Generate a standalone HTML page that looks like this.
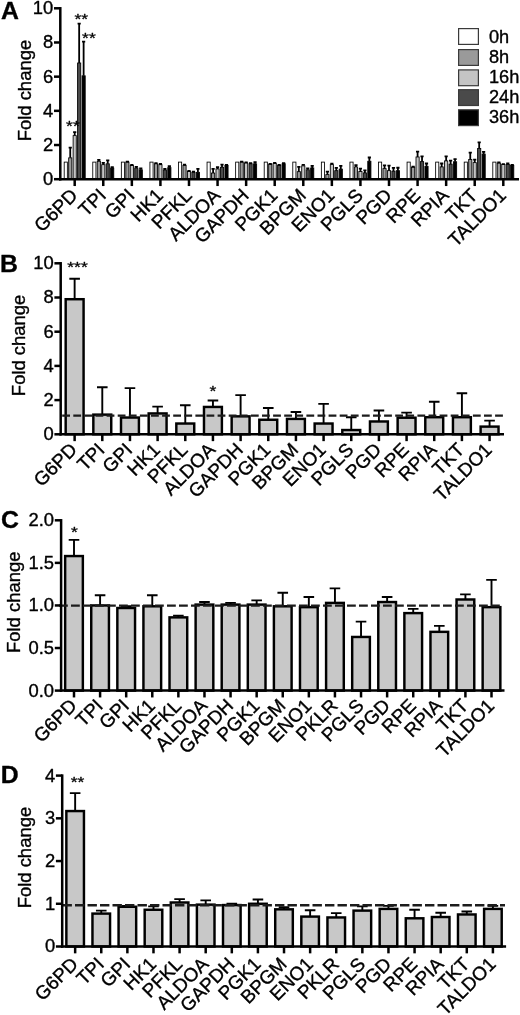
<!DOCTYPE html>
<html lang="en">
<head>
<meta charset="utf-8">
<title>Figure</title>
<style>html,body{margin:0;padding:0;background:#fff;}svg{display:block;}text{stroke:#000;stroke-width:0.35px;stroke-linejoin:round;}</style>
</head>
<body>
<svg width="520" height="1015" viewBox="0 0 520 1015" font-family='"Liberation Sans", Arial, Helvetica, sans-serif' fill="#000" stroke="none">
<rect x="0" y="0" width="520" height="1015" fill="#fff"/>
<rect x="64.2" y="162.11" width="3.16" height="17.09" fill="#ffffff" stroke="#000" stroke-width="0.85"/>
<rect x="68.66" y="157.84" width="3.16" height="21.36" fill="#9a9a9a" stroke="#000" stroke-width="0.85"/>
<path d="M70.24 157.84V147.58M68.64 147.58H71.84" stroke="#000" stroke-width="1.8" fill="none"/>
<rect x="73.12" y="135.62" width="3.16" height="43.58" fill="#c4c4c4" stroke="#000" stroke-width="0.85"/>
<path d="M74.7 135.62V132.2M73.1 132.2H76.3" stroke="#000" stroke-width="1.8" fill="none"/>
<rect x="77.58" y="62.99" width="3.16" height="116.21" fill="#4a4a4a" stroke="#000" stroke-width="0.85"/>
<path d="M79.16 62.99V23.68M77.56 23.68H80.76" stroke="#000" stroke-width="1.8" fill="none"/>
<rect x="82.04" y="75.81" width="3.16" height="103.39" fill="#000000" stroke="#000" stroke-width="0.85"/>
<path d="M83.62 75.81V41.63M82.02 41.63H85.22" stroke="#000" stroke-width="1.8" fill="none"/>
<rect x="92.77" y="162.11" width="3.16" height="17.09" fill="#ffffff" stroke="#000" stroke-width="0.85"/>
<rect x="97.23" y="161.26" width="3.16" height="17.94" fill="#9a9a9a" stroke="#000" stroke-width="0.85"/>
<path d="M98.81 161.26V159.89M97.21 159.89H100.41" stroke="#000" stroke-width="1.8" fill="none"/>
<rect x="101.69" y="164.67" width="3.16" height="14.53" fill="#c4c4c4" stroke="#000" stroke-width="0.85"/>
<path d="M103.27 164.67V162.96M101.67 162.96H104.87" stroke="#000" stroke-width="1.8" fill="none"/>
<rect x="106.15" y="163.82" width="3.16" height="15.38" fill="#4a4a4a" stroke="#000" stroke-width="0.85"/>
<path d="M107.73 163.82V160.4M106.13 160.4H109.33" stroke="#000" stroke-width="1.8" fill="none"/>
<rect x="110.61" y="168.09" width="3.16" height="11.11" fill="#000000" stroke="#000" stroke-width="0.85"/>
<path d="M112.19 168.09V167.24M110.59 167.24H113.79" stroke="#000" stroke-width="1.8" fill="none"/>
<rect x="121.35" y="162.11" width="3.16" height="17.09" fill="#ffffff" stroke="#000" stroke-width="0.85"/>
<rect x="125.81" y="162.11" width="3.16" height="17.09" fill="#9a9a9a" stroke="#000" stroke-width="0.85"/>
<path d="M127.39 162.11V161.6M125.79 161.6H128.99" stroke="#000" stroke-width="1.8" fill="none"/>
<rect x="130.27" y="165.53" width="3.16" height="13.67" fill="#c4c4c4" stroke="#000" stroke-width="0.85"/>
<path d="M131.85 165.53V165.02M130.25 165.02H133.45" stroke="#000" stroke-width="1.8" fill="none"/>
<rect x="134.73" y="168.09" width="3.16" height="11.11" fill="#4a4a4a" stroke="#000" stroke-width="0.85"/>
<path d="M136.31 168.09V166.9M134.71 166.9H137.91" stroke="#000" stroke-width="1.8" fill="none"/>
<rect x="139.19" y="169.8" width="3.16" height="9.4" fill="#000000" stroke="#000" stroke-width="0.85"/>
<path d="M140.77 169.8V168.43M139.17 168.43H142.37" stroke="#000" stroke-width="1.8" fill="none"/>
<rect x="149.92" y="162.11" width="3.16" height="17.09" fill="#ffffff" stroke="#000" stroke-width="0.85"/>
<rect x="154.38" y="163.82" width="3.16" height="15.38" fill="#9a9a9a" stroke="#000" stroke-width="0.85"/>
<path d="M155.96 163.82V163.14M154.36 163.14H157.56" stroke="#000" stroke-width="1.8" fill="none"/>
<rect x="158.84" y="164.67" width="3.16" height="14.53" fill="#c4c4c4" stroke="#000" stroke-width="0.85"/>
<path d="M160.42 164.67V163.99M158.82 163.99H162.02" stroke="#000" stroke-width="1.8" fill="none"/>
<rect x="163.3" y="169.97" width="3.16" height="9.23" fill="#4a4a4a" stroke="#000" stroke-width="0.85"/>
<path d="M164.88 169.97V168.78M163.28 168.78H166.48" stroke="#000" stroke-width="1.8" fill="none"/>
<rect x="167.76" y="167.58" width="3.16" height="11.62" fill="#000000" stroke="#000" stroke-width="0.85"/>
<path d="M169.34 167.58V166.21M167.74 166.21H170.94" stroke="#000" stroke-width="1.8" fill="none"/>
<rect x="178.49" y="162.11" width="3.16" height="17.09" fill="#ffffff" stroke="#000" stroke-width="0.85"/>
<rect x="182.95" y="165.53" width="3.16" height="13.67" fill="#9a9a9a" stroke="#000" stroke-width="0.85"/>
<path d="M184.53 165.53V164.67M182.93 164.67H186.13" stroke="#000" stroke-width="1.8" fill="none"/>
<rect x="187.41" y="171.51" width="3.16" height="7.69" fill="#c4c4c4" stroke="#000" stroke-width="0.85"/>
<path d="M188.99 171.51V171M187.39 171H190.59" stroke="#000" stroke-width="1.8" fill="none"/>
<rect x="191.87" y="172.36" width="3.16" height="6.84" fill="#4a4a4a" stroke="#000" stroke-width="0.85"/>
<path d="M193.45 172.36V171.68M191.85 171.68H195.05" stroke="#000" stroke-width="1.8" fill="none"/>
<rect x="196.33" y="172.36" width="3.16" height="6.84" fill="#000000" stroke="#000" stroke-width="0.85"/>
<path d="M197.91 172.36V168.95M196.31 168.95H199.51" stroke="#000" stroke-width="1.8" fill="none"/>
<rect x="207.06" y="162.11" width="3.16" height="17.09" fill="#ffffff" stroke="#000" stroke-width="0.85"/>
<rect x="211.53" y="173.05" width="3.16" height="6.15" fill="#9a9a9a" stroke="#000" stroke-width="0.85"/>
<path d="M213.1 173.05V168.78M211.5 168.78H214.7" stroke="#000" stroke-width="1.8" fill="none"/>
<rect x="215.98" y="168.95" width="3.16" height="10.25" fill="#c4c4c4" stroke="#000" stroke-width="0.85"/>
<path d="M217.56 168.95V167.24M215.96 167.24H219.16" stroke="#000" stroke-width="1.8" fill="none"/>
<rect x="220.44" y="167.24" width="3.16" height="11.96" fill="#4a4a4a" stroke="#000" stroke-width="0.85"/>
<path d="M222.02 167.24V164.67M220.42 164.67H223.62" stroke="#000" stroke-width="1.8" fill="none"/>
<rect x="224.91" y="165.53" width="3.16" height="13.67" fill="#000000" stroke="#000" stroke-width="0.85"/>
<path d="M226.48 165.53V165.02M224.88 165.02H228.08" stroke="#000" stroke-width="1.8" fill="none"/>
<rect x="235.64" y="162.11" width="3.16" height="17.09" fill="#ffffff" stroke="#000" stroke-width="0.85"/>
<rect x="240.1" y="162.11" width="3.16" height="17.09" fill="#9a9a9a" stroke="#000" stroke-width="0.85"/>
<path d="M241.68 162.11V161.6M240.08 161.6H243.28" stroke="#000" stroke-width="1.8" fill="none"/>
<rect x="244.56" y="162.96" width="3.16" height="16.24" fill="#c4c4c4" stroke="#000" stroke-width="0.85"/>
<path d="M246.14 162.96V162.28M244.54 162.28H247.74" stroke="#000" stroke-width="1.8" fill="none"/>
<rect x="249.02" y="163.82" width="3.16" height="15.38" fill="#4a4a4a" stroke="#000" stroke-width="0.85"/>
<path d="M250.6 163.82V163.14M249 163.14H252.2" stroke="#000" stroke-width="1.8" fill="none"/>
<rect x="253.48" y="163.82" width="3.16" height="15.38" fill="#000000" stroke="#000" stroke-width="0.85"/>
<path d="M255.06 163.82V162.11M253.46 162.11H256.66" stroke="#000" stroke-width="1.8" fill="none"/>
<rect x="264.21" y="162.11" width="3.16" height="17.09" fill="#ffffff" stroke="#000" stroke-width="0.85"/>
<rect x="268.67" y="164.33" width="3.16" height="14.87" fill="#9a9a9a" stroke="#000" stroke-width="0.85"/>
<path d="M270.25 164.33V163.82M268.65 163.82H271.85" stroke="#000" stroke-width="1.8" fill="none"/>
<rect x="273.13" y="163.48" width="3.16" height="15.72" fill="#c4c4c4" stroke="#000" stroke-width="0.85"/>
<path d="M274.71 163.48V162.96M273.11 162.96H276.31" stroke="#000" stroke-width="1.8" fill="none"/>
<rect x="277.59" y="165.53" width="3.16" height="13.67" fill="#4a4a4a" stroke="#000" stroke-width="0.85"/>
<path d="M279.17 165.53V164.84M277.57 164.84H280.77" stroke="#000" stroke-width="1.8" fill="none"/>
<rect x="282.05" y="163.82" width="3.16" height="15.38" fill="#000000" stroke="#000" stroke-width="0.85"/>
<path d="M283.63 163.82V163.14M282.03 163.14H285.23" stroke="#000" stroke-width="1.8" fill="none"/>
<rect x="292.78" y="162.11" width="3.16" height="17.09" fill="#ffffff" stroke="#000" stroke-width="0.85"/>
<rect x="297.24" y="171.68" width="3.16" height="7.52" fill="#9a9a9a" stroke="#000" stroke-width="0.85"/>
<path d="M298.82 171.68V166.9M297.22 166.9H300.42" stroke="#000" stroke-width="1.8" fill="none"/>
<rect x="301.7" y="165.87" width="3.16" height="13.33" fill="#c4c4c4" stroke="#000" stroke-width="0.85"/>
<path d="M303.28 165.87V164.84M301.68 164.84H304.88" stroke="#000" stroke-width="1.8" fill="none"/>
<rect x="306.16" y="169.8" width="3.16" height="9.4" fill="#4a4a4a" stroke="#000" stroke-width="0.85"/>
<path d="M307.74 169.8V168.43M306.14 168.43H309.34" stroke="#000" stroke-width="1.8" fill="none"/>
<rect x="310.62" y="167.92" width="3.16" height="11.28" fill="#000000" stroke="#000" stroke-width="0.85"/>
<path d="M312.2 167.92V165.87M310.6 165.87H313.8" stroke="#000" stroke-width="1.8" fill="none"/>
<rect x="321.36" y="162.11" width="3.16" height="17.09" fill="#ffffff" stroke="#000" stroke-width="0.85"/>
<rect x="325.82" y="174.59" width="3.16" height="4.61" fill="#9a9a9a" stroke="#000" stroke-width="0.85"/>
<path d="M327.4 174.59V171.68M325.8 171.68H329" stroke="#000" stroke-width="1.8" fill="none"/>
<rect x="330.28" y="164.59" width="3.16" height="14.61" fill="#c4c4c4" stroke="#000" stroke-width="0.85"/>
<path d="M331.86 164.59V163.56M330.26 163.56H333.46" stroke="#000" stroke-width="1.8" fill="none"/>
<rect x="334.74" y="170.66" width="3.16" height="8.54" fill="#4a4a4a" stroke="#000" stroke-width="0.85"/>
<path d="M336.32 170.66V167.92M334.72 167.92H337.92" stroke="#000" stroke-width="1.8" fill="none"/>
<rect x="339.2" y="169.12" width="3.16" height="10.08" fill="#000000" stroke="#000" stroke-width="0.85"/>
<path d="M340.78 169.12V165.87M339.18 165.87H342.38" stroke="#000" stroke-width="1.8" fill="none"/>
<rect x="349.93" y="162.11" width="3.16" height="17.09" fill="#ffffff" stroke="#000" stroke-width="0.85"/>
<rect x="354.39" y="166.9" width="3.16" height="12.3" fill="#9a9a9a" stroke="#000" stroke-width="0.85"/>
<path d="M355.97 166.9V165.19M354.37 165.19H357.57" stroke="#000" stroke-width="1.8" fill="none"/>
<rect x="358.85" y="171.51" width="3.16" height="7.69" fill="#c4c4c4" stroke="#000" stroke-width="0.85"/>
<path d="M360.43 171.51V168.6M358.83 168.6H362.03" stroke="#000" stroke-width="1.8" fill="none"/>
<rect x="363.31" y="172.88" width="3.16" height="6.32" fill="#4a4a4a" stroke="#000" stroke-width="0.85"/>
<path d="M364.89 172.88V170.31M363.29 170.31H366.49" stroke="#000" stroke-width="1.8" fill="none"/>
<rect x="367.77" y="161.26" width="3.16" height="17.94" fill="#000000" stroke="#000" stroke-width="0.85"/>
<path d="M369.35 161.26V157.5M367.75 157.5H370.95" stroke="#000" stroke-width="1.8" fill="none"/>
<rect x="378.5" y="162.11" width="3.16" height="17.09" fill="#ffffff" stroke="#000" stroke-width="0.85"/>
<rect x="382.96" y="168.6" width="3.16" height="10.6" fill="#9a9a9a" stroke="#000" stroke-width="0.85"/>
<path d="M384.54 168.6V165.36M382.94 165.36H386.14" stroke="#000" stroke-width="1.8" fill="none"/>
<rect x="387.42" y="170.66" width="3.16" height="8.54" fill="#c4c4c4" stroke="#000" stroke-width="0.85"/>
<path d="M389 170.66V165.53M387.4 165.53H390.6" stroke="#000" stroke-width="1.8" fill="none"/>
<rect x="391.88" y="171.17" width="3.16" height="8.03" fill="#4a4a4a" stroke="#000" stroke-width="0.85"/>
<path d="M393.46 171.17V167.92M391.86 167.92H395.06" stroke="#000" stroke-width="1.8" fill="none"/>
<rect x="396.34" y="170.66" width="3.16" height="8.54" fill="#000000" stroke="#000" stroke-width="0.85"/>
<path d="M397.92 170.66V167.75M396.32 167.75H399.52" stroke="#000" stroke-width="1.8" fill="none"/>
<rect x="407.08" y="162.11" width="3.16" height="17.09" fill="#ffffff" stroke="#000" stroke-width="0.85"/>
<rect x="411.54" y="167.24" width="3.16" height="11.96" fill="#9a9a9a" stroke="#000" stroke-width="0.85"/>
<path d="M413.12 167.24V166.55M411.52 166.55H414.72" stroke="#000" stroke-width="1.8" fill="none"/>
<rect x="416" y="156.98" width="3.16" height="22.22" fill="#c4c4c4" stroke="#000" stroke-width="0.85"/>
<path d="M417.58 156.98V151.69M415.98 151.69H419.18" stroke="#000" stroke-width="1.8" fill="none"/>
<rect x="420.46" y="161.6" width="3.16" height="17.6" fill="#4a4a4a" stroke="#000" stroke-width="0.85"/>
<path d="M422.04 161.6V156.47M420.44 156.47H423.64" stroke="#000" stroke-width="1.8" fill="none"/>
<rect x="424.92" y="166.38" width="3.16" height="12.82" fill="#000000" stroke="#000" stroke-width="0.85"/>
<path d="M426.5 166.38V163.48M424.9 163.48H428.1" stroke="#000" stroke-width="1.8" fill="none"/>
<rect x="435.65" y="162.11" width="3.16" height="17.09" fill="#ffffff" stroke="#000" stroke-width="0.85"/>
<rect x="440.11" y="166.9" width="3.16" height="12.3" fill="#9a9a9a" stroke="#000" stroke-width="0.85"/>
<path d="M441.69 166.9V163.48M440.09 163.48H443.29" stroke="#000" stroke-width="1.8" fill="none"/>
<rect x="444.57" y="160.91" width="3.16" height="18.29" fill="#c4c4c4" stroke="#000" stroke-width="0.85"/>
<path d="M446.15 160.91V156.3M444.55 156.3H447.75" stroke="#000" stroke-width="1.8" fill="none"/>
<rect x="449.03" y="164.16" width="3.16" height="15.04" fill="#4a4a4a" stroke="#000" stroke-width="0.85"/>
<path d="M450.61 164.16V160.57M449.01 160.57H452.21" stroke="#000" stroke-width="1.8" fill="none"/>
<rect x="453.49" y="161.77" width="3.16" height="17.43" fill="#000000" stroke="#000" stroke-width="0.85"/>
<path d="M455.07 161.77V159.2M453.47 159.2H456.67" stroke="#000" stroke-width="1.8" fill="none"/>
<rect x="464.22" y="162.11" width="3.16" height="17.09" fill="#ffffff" stroke="#000" stroke-width="0.85"/>
<rect x="468.68" y="159.55" width="3.16" height="19.65" fill="#9a9a9a" stroke="#000" stroke-width="0.85"/>
<path d="M470.26 159.55V152.71M468.66 152.71H471.86" stroke="#000" stroke-width="1.8" fill="none"/>
<rect x="473.14" y="162.62" width="3.16" height="16.58" fill="#c4c4c4" stroke="#000" stroke-width="0.85"/>
<path d="M474.72 162.62V159.55M473.12 159.55H476.32" stroke="#000" stroke-width="1.8" fill="none"/>
<rect x="477.6" y="148.44" width="3.16" height="30.76" fill="#4a4a4a" stroke="#000" stroke-width="0.85"/>
<path d="M479.18 148.44V142.46M477.58 142.46H480.78" stroke="#000" stroke-width="1.8" fill="none"/>
<rect x="482.06" y="154.08" width="3.16" height="25.12" fill="#000000" stroke="#000" stroke-width="0.85"/>
<path d="M483.64 154.08V151.86M482.04 151.86H485.24" stroke="#000" stroke-width="1.8" fill="none"/>
<rect x="492.8" y="162.11" width="3.16" height="17.09" fill="#ffffff" stroke="#000" stroke-width="0.85"/>
<rect x="497.25" y="163.14" width="3.16" height="16.06" fill="#9a9a9a" stroke="#000" stroke-width="0.85"/>
<path d="M498.84 163.14V162.45M497.24 162.45H500.44" stroke="#000" stroke-width="1.8" fill="none"/>
<rect x="501.72" y="164.5" width="3.16" height="14.7" fill="#c4c4c4" stroke="#000" stroke-width="0.85"/>
<path d="M503.3 164.5V164.16M501.7 164.16H504.9" stroke="#000" stroke-width="1.8" fill="none"/>
<rect x="506.18" y="164.5" width="3.16" height="14.7" fill="#4a4a4a" stroke="#000" stroke-width="0.85"/>
<path d="M507.76 164.5V163.48M506.16 163.48H509.36" stroke="#000" stroke-width="1.8" fill="none"/>
<rect x="510.63" y="165.36" width="3.16" height="13.84" fill="#000000" stroke="#000" stroke-width="0.85"/>
<path d="M512.22 165.36V165.02M510.62 165.02H513.82" stroke="#000" stroke-width="1.8" fill="none"/>
<line x1="60.3" y1="7.05" x2="60.3" y2="180.45" stroke="#000" stroke-width="2.5"/>
<line x1="59.05" y1="179.2" x2="519" y2="179.2" stroke="#000" stroke-width="2.5"/>
<line x1="54" y1="179.2" x2="60.3" y2="179.2" stroke="#000" stroke-width="2.5"/>
<text x="53.3" y="185.18" font-size="18.4" text-anchor="end">0</text>
<line x1="54" y1="145.02" x2="60.3" y2="145.02" stroke="#000" stroke-width="2.5"/>
<text x="53.3" y="151" font-size="18.4" text-anchor="end">2</text>
<line x1="54" y1="110.84" x2="60.3" y2="110.84" stroke="#000" stroke-width="2.5"/>
<text x="53.3" y="116.82" font-size="18.4" text-anchor="end">4</text>
<line x1="54" y1="76.66" x2="60.3" y2="76.66" stroke="#000" stroke-width="2.5"/>
<text x="53.3" y="82.64" font-size="18.4" text-anchor="end">6</text>
<line x1="54" y1="42.48" x2="60.3" y2="42.48" stroke="#000" stroke-width="2.5"/>
<text x="53.3" y="48.46" font-size="18.4" text-anchor="end">8</text>
<line x1="54" y1="8.3" x2="60.3" y2="8.3" stroke="#000" stroke-width="2.5"/>
<text x="53.3" y="14.28" font-size="18.4" text-anchor="end">10</text>
<text transform="translate(31,90.6) rotate(-90)" font-size="18.45" text-anchor="middle">Fold change</text>
<text transform="translate(1,19) scale(1,1)" font-size="24.8" font-weight="bold">A</text>
<line x1="74.7" y1="179.2" x2="74.7" y2="186.05" stroke="#000" stroke-width="2.5"/>
<text transform="translate(78.6,196.5) rotate(-45)" font-size="19.0" text-anchor="end">G6PD</text>
<line x1="103.27" y1="179.2" x2="103.27" y2="186.05" stroke="#000" stroke-width="2.5"/>
<text transform="translate(107.17,196.5) rotate(-45)" font-size="19.0" text-anchor="end">TPI</text>
<line x1="131.85" y1="179.2" x2="131.85" y2="186.05" stroke="#000" stroke-width="2.5"/>
<text transform="translate(135.75,196.5) rotate(-45)" font-size="19.0" text-anchor="end">GPI</text>
<line x1="160.42" y1="179.2" x2="160.42" y2="186.05" stroke="#000" stroke-width="2.5"/>
<text transform="translate(164.32,196.5) rotate(-45)" font-size="19.0" text-anchor="end">HK1</text>
<line x1="188.99" y1="179.2" x2="188.99" y2="186.05" stroke="#000" stroke-width="2.5"/>
<text transform="translate(192.89,196.5) rotate(-45)" font-size="19.0" text-anchor="end">PFKL</text>
<line x1="217.56" y1="179.2" x2="217.56" y2="186.05" stroke="#000" stroke-width="2.5"/>
<text transform="translate(221.47,196.5) rotate(-45)" font-size="19.0" text-anchor="end">ALDOA</text>
<line x1="246.14" y1="179.2" x2="246.14" y2="186.05" stroke="#000" stroke-width="2.5"/>
<text transform="translate(250.04,196.5) rotate(-45)" font-size="19.0" text-anchor="end">GAPDH</text>
<line x1="274.71" y1="179.2" x2="274.71" y2="186.05" stroke="#000" stroke-width="2.5"/>
<text transform="translate(278.61,196.5) rotate(-45)" font-size="19.0" text-anchor="end">PGK1</text>
<line x1="303.28" y1="179.2" x2="303.28" y2="186.05" stroke="#000" stroke-width="2.5"/>
<text transform="translate(307.18,196.5) rotate(-45)" font-size="19.0" text-anchor="end">BPGM</text>
<line x1="331.86" y1="179.2" x2="331.86" y2="186.05" stroke="#000" stroke-width="2.5"/>
<text transform="translate(335.76,196.5) rotate(-45)" font-size="19.0" text-anchor="end">ENO1</text>
<line x1="360.43" y1="179.2" x2="360.43" y2="186.05" stroke="#000" stroke-width="2.5"/>
<text transform="translate(364.33,196.5) rotate(-45)" font-size="19.0" text-anchor="end">PGLS</text>
<line x1="389" y1="179.2" x2="389" y2="186.05" stroke="#000" stroke-width="2.5"/>
<text transform="translate(392.9,196.5) rotate(-45)" font-size="19.0" text-anchor="end">PGD</text>
<line x1="417.58" y1="179.2" x2="417.58" y2="186.05" stroke="#000" stroke-width="2.5"/>
<text transform="translate(421.48,196.5) rotate(-45)" font-size="19.0" text-anchor="end">RPE</text>
<line x1="446.15" y1="179.2" x2="446.15" y2="186.05" stroke="#000" stroke-width="2.5"/>
<text transform="translate(450.05,196.5) rotate(-45)" font-size="19.0" text-anchor="end">RPIA</text>
<line x1="474.72" y1="179.2" x2="474.72" y2="186.05" stroke="#000" stroke-width="2.5"/>
<text transform="translate(478.62,196.5) rotate(-45)" font-size="19.0" text-anchor="end">TKT</text>
<line x1="503.3" y1="179.2" x2="503.3" y2="186.05" stroke="#000" stroke-width="2.5"/>
<text transform="translate(507.19,196.5) rotate(-45)" font-size="19.0" text-anchor="end">TALDO1</text>
<text transform="translate(72.9,130.77) scale(1,0.82)" font-size="17.5" text-anchor="middle">**</text>
<text transform="translate(81.25,24.37) scale(1,0.82)" font-size="17.5" text-anchor="middle">**</text>
<text transform="translate(88.9,43.27) scale(1,0.82)" font-size="17.5" text-anchor="middle">**</text>
<rect x="458.6" y="28.6" width="19.8" height="15.8" fill="#ffffff" stroke="#3a3a3a" stroke-width="1.2"/>
<text x="489" y="42.7" font-size="18.2">0h</text>
<rect x="458.6" y="49.6" width="19.8" height="15.8" fill="#9a9a9a" stroke="#3a3a3a" stroke-width="1.2"/>
<text x="489" y="62.85" font-size="18.2">8h</text>
<rect x="458.6" y="69.9" width="19.8" height="15.8" fill="#c4c4c4" stroke="#3a3a3a" stroke-width="1.2"/>
<text x="489" y="83" font-size="18.2">16h</text>
<rect x="458.6" y="89.7" width="19.8" height="15.8" fill="#4a4a4a" stroke="#3a3a3a" stroke-width="1.2"/>
<text x="489" y="103.15" font-size="18.2">24h</text>
<rect x="458.6" y="109.8" width="19.8" height="15.8" fill="#000000" stroke="#3a3a3a" stroke-width="1.2"/>
<text x="489" y="123.3" font-size="18.2">36h</text>
<path d="M74.63 299.21V278.69M69.33 278.69H79.93" stroke="#000" stroke-width="1.9" fill="none"/>
<rect x="65.68" y="299.21" width="17.9" height="135.09" fill="#c8c8c8" stroke="#000" stroke-width="2.45"/>
<path d="M102.29 414.63V387.28M96.99 387.28H107.59" stroke="#000" stroke-width="1.9" fill="none"/>
<rect x="93.34" y="414.63" width="17.9" height="19.67" fill="#c8c8c8" stroke="#000" stroke-width="2.45"/>
<path d="M129.96 417.54V388.13M124.66 388.13H135.26" stroke="#000" stroke-width="1.9" fill="none"/>
<rect x="121.01" y="417.54" width="17.9" height="16.76" fill="#c8c8c8" stroke="#000" stroke-width="2.45"/>
<path d="M157.62 413.44V406.6M152.32 406.6H162.92" stroke="#000" stroke-width="1.9" fill="none"/>
<rect x="148.67" y="413.44" width="17.9" height="20.86" fill="#c8c8c8" stroke="#000" stroke-width="2.45"/>
<path d="M185.28 423.53V405.23M179.98 405.23H190.58" stroke="#000" stroke-width="1.9" fill="none"/>
<rect x="176.33" y="423.53" width="17.9" height="10.77" fill="#c8c8c8" stroke="#000" stroke-width="2.45"/>
<path d="M212.94 406.94V400.44M207.64 400.44H218.24" stroke="#000" stroke-width="1.9" fill="none"/>
<rect x="203.99" y="406.94" width="17.9" height="27.36" fill="#c8c8c8" stroke="#000" stroke-width="2.45"/>
<path d="M240.61 416.35V395.14M235.31 395.14H245.91" stroke="#000" stroke-width="1.9" fill="none"/>
<rect x="231.66" y="416.35" width="17.9" height="17.95" fill="#c8c8c8" stroke="#000" stroke-width="2.45"/>
<path d="M268.27 419.76V407.97M262.97 407.97H273.57" stroke="#000" stroke-width="1.9" fill="none"/>
<rect x="259.32" y="419.76" width="17.9" height="14.54" fill="#c8c8c8" stroke="#000" stroke-width="2.45"/>
<path d="M295.93 418.91V412.07M290.63 412.07H301.23" stroke="#000" stroke-width="1.9" fill="none"/>
<rect x="286.98" y="418.91" width="17.9" height="15.39" fill="#c8c8c8" stroke="#000" stroke-width="2.45"/>
<path d="M323.59 423.53V403.86M318.29 403.86H328.89" stroke="#000" stroke-width="1.9" fill="none"/>
<rect x="314.64" y="423.53" width="17.9" height="10.77" fill="#c8c8c8" stroke="#000" stroke-width="2.45"/>
<path d="M351.26 430.03V417.2M345.96 417.2H356.56" stroke="#000" stroke-width="1.9" fill="none"/>
<rect x="342.31" y="430.03" width="17.9" height="4.27" fill="#c8c8c8" stroke="#000" stroke-width="2.45"/>
<path d="M378.92 421.48V410.53M373.62 410.53H384.22" stroke="#000" stroke-width="1.9" fill="none"/>
<rect x="369.97" y="421.48" width="17.9" height="12.82" fill="#c8c8c8" stroke="#000" stroke-width="2.45"/>
<path d="M406.58 417.71V412.58M401.28 412.58H411.88" stroke="#000" stroke-width="1.9" fill="none"/>
<rect x="397.63" y="417.71" width="17.9" height="16.59" fill="#c8c8c8" stroke="#000" stroke-width="2.45"/>
<path d="M434.24 417.2V401.81M428.94 401.81H439.54" stroke="#000" stroke-width="1.9" fill="none"/>
<rect x="425.29" y="417.2" width="17.9" height="17.1" fill="#c8c8c8" stroke="#000" stroke-width="2.45"/>
<path d="M461.91 417.2V393.26M456.61 393.26H467.21" stroke="#000" stroke-width="1.9" fill="none"/>
<rect x="452.96" y="417.2" width="17.9" height="17.1" fill="#c8c8c8" stroke="#000" stroke-width="2.45"/>
<path d="M489.57 426.61V420.62M484.27 420.62H494.87" stroke="#000" stroke-width="1.9" fill="none"/>
<rect x="480.62" y="426.61" width="17.9" height="7.69" fill="#c8c8c8" stroke="#000" stroke-width="2.45"/>
<line x1="62.2" y1="415.66" x2="503.8" y2="415.66" stroke="#1c1c1c" stroke-width="2.4" stroke-dasharray="7.8 3.3"/>
<line x1="60.7" y1="262.05" x2="60.7" y2="435.55" stroke="#000" stroke-width="2.5"/>
<line x1="59.45" y1="434.3" x2="504" y2="434.3" stroke="#000" stroke-width="2.5"/>
<line x1="54.4" y1="434.3" x2="60.7" y2="434.3" stroke="#000" stroke-width="2.5"/>
<text x="53.7" y="440.28" font-size="18.4" text-anchor="end">0</text>
<line x1="54.4" y1="400.1" x2="60.7" y2="400.1" stroke="#000" stroke-width="2.5"/>
<text x="53.7" y="406.08" font-size="18.4" text-anchor="end">2</text>
<line x1="54.4" y1="365.9" x2="60.7" y2="365.9" stroke="#000" stroke-width="2.5"/>
<text x="53.7" y="371.88" font-size="18.4" text-anchor="end">4</text>
<line x1="54.4" y1="331.7" x2="60.7" y2="331.7" stroke="#000" stroke-width="2.5"/>
<text x="53.7" y="337.68" font-size="18.4" text-anchor="end">6</text>
<line x1="54.4" y1="297.5" x2="60.7" y2="297.5" stroke="#000" stroke-width="2.5"/>
<text x="53.7" y="303.48" font-size="18.4" text-anchor="end">8</text>
<line x1="54.4" y1="263.3" x2="60.7" y2="263.3" stroke="#000" stroke-width="2.5"/>
<text x="53.7" y="269.28" font-size="18.4" text-anchor="end">10</text>
<text transform="translate(25,345.4) rotate(-90)" font-size="18.45" text-anchor="middle">Fold change</text>
<text transform="translate(-0.1,271.6) scale(1,1)" font-size="24.8" font-weight="bold">B</text>
<line x1="74.63" y1="434.3" x2="74.63" y2="441.15" stroke="#000" stroke-width="2.5"/>
<text transform="translate(78.13,450.9) rotate(-45)" font-size="19.0" text-anchor="end">G6PD</text>
<line x1="102.29" y1="434.3" x2="102.29" y2="441.15" stroke="#000" stroke-width="2.5"/>
<text transform="translate(105.79,450.9) rotate(-45)" font-size="19.0" text-anchor="end">TPI</text>
<line x1="129.96" y1="434.3" x2="129.96" y2="441.15" stroke="#000" stroke-width="2.5"/>
<text transform="translate(133.46,450.9) rotate(-45)" font-size="19.0" text-anchor="end">GPI</text>
<line x1="157.62" y1="434.3" x2="157.62" y2="441.15" stroke="#000" stroke-width="2.5"/>
<text transform="translate(161.12,450.9) rotate(-45)" font-size="19.0" text-anchor="end">HK1</text>
<line x1="185.28" y1="434.3" x2="185.28" y2="441.15" stroke="#000" stroke-width="2.5"/>
<text transform="translate(188.78,450.9) rotate(-45)" font-size="19.0" text-anchor="end">PFKL</text>
<line x1="212.94" y1="434.3" x2="212.94" y2="441.15" stroke="#000" stroke-width="2.5"/>
<text transform="translate(216.44,450.9) rotate(-45)" font-size="19.0" text-anchor="end">ALDOA</text>
<line x1="240.61" y1="434.3" x2="240.61" y2="441.15" stroke="#000" stroke-width="2.5"/>
<text transform="translate(244.11,450.9) rotate(-45)" font-size="19.0" text-anchor="end">GAPDH</text>
<line x1="268.27" y1="434.3" x2="268.27" y2="441.15" stroke="#000" stroke-width="2.5"/>
<text transform="translate(271.77,450.9) rotate(-45)" font-size="19.0" text-anchor="end">PGK1</text>
<line x1="295.93" y1="434.3" x2="295.93" y2="441.15" stroke="#000" stroke-width="2.5"/>
<text transform="translate(299.43,450.9) rotate(-45)" font-size="19.0" text-anchor="end">BPGM</text>
<line x1="323.59" y1="434.3" x2="323.59" y2="441.15" stroke="#000" stroke-width="2.5"/>
<text transform="translate(327.09,450.9) rotate(-45)" font-size="19.0" text-anchor="end">ENO1</text>
<line x1="351.26" y1="434.3" x2="351.26" y2="441.15" stroke="#000" stroke-width="2.5"/>
<text transform="translate(354.76,450.9) rotate(-45)" font-size="19.0" text-anchor="end">PGLS</text>
<line x1="378.92" y1="434.3" x2="378.92" y2="441.15" stroke="#000" stroke-width="2.5"/>
<text transform="translate(382.42,450.9) rotate(-45)" font-size="19.0" text-anchor="end">PGD</text>
<line x1="406.58" y1="434.3" x2="406.58" y2="441.15" stroke="#000" stroke-width="2.5"/>
<text transform="translate(410.08,450.9) rotate(-45)" font-size="19.0" text-anchor="end">RPE</text>
<line x1="434.24" y1="434.3" x2="434.24" y2="441.15" stroke="#000" stroke-width="2.5"/>
<text transform="translate(437.74,450.9) rotate(-45)" font-size="19.0" text-anchor="end">RPIA</text>
<line x1="461.91" y1="434.3" x2="461.91" y2="441.15" stroke="#000" stroke-width="2.5"/>
<text transform="translate(465.41,450.9) rotate(-45)" font-size="19.0" text-anchor="end">TKT</text>
<line x1="489.57" y1="434.3" x2="489.57" y2="441.15" stroke="#000" stroke-width="2.5"/>
<text transform="translate(493.07,450.9) rotate(-45)" font-size="19.0" text-anchor="end">TALDO1</text>
<text transform="translate(77.5,272.47) scale(1,0.82)" font-size="17.5" text-anchor="middle">***</text>
<text transform="translate(212.8,396.37) scale(1,0.82)" font-size="17.5" text-anchor="middle">*</text>
<path d="M74 556.06V539.88M68.7 539.88H79.3" stroke="#000" stroke-width="1.9" fill="none"/>
<rect x="65.15" y="556.06" width="17.7" height="134.54" fill="#c8c8c8" stroke="#000" stroke-width="2.45"/>
<path d="M100.09 605.45V595.23M94.79 595.23H105.39" stroke="#000" stroke-width="1.9" fill="none"/>
<rect x="91.24" y="605.45" width="17.7" height="85.15" fill="#c8c8c8" stroke="#000" stroke-width="2.45"/>
<path d="M126.19 608V606.3M120.89 606.3H131.49" stroke="#000" stroke-width="1.9" fill="none"/>
<rect x="117.34" y="608" width="17.7" height="82.6" fill="#c8c8c8" stroke="#000" stroke-width="2.45"/>
<path d="M152.28 606.3V595.23M146.98 595.23H157.58" stroke="#000" stroke-width="1.9" fill="none"/>
<rect x="143.43" y="606.3" width="17.7" height="84.3" fill="#c8c8c8" stroke="#000" stroke-width="2.45"/>
<path d="M178.37 617.37V615.67M173.07 615.67H183.67" stroke="#000" stroke-width="1.9" fill="none"/>
<rect x="169.52" y="617.37" width="17.7" height="73.23" fill="#c8c8c8" stroke="#000" stroke-width="2.45"/>
<path d="M204.47 604.6V602.04M199.17 602.04H209.77" stroke="#000" stroke-width="1.9" fill="none"/>
<rect x="195.62" y="604.6" width="17.7" height="86" fill="#c8c8c8" stroke="#000" stroke-width="2.45"/>
<path d="M230.56 604.6V602.9M225.26 602.9H235.86" stroke="#000" stroke-width="1.9" fill="none"/>
<rect x="221.71" y="604.6" width="17.7" height="86" fill="#c8c8c8" stroke="#000" stroke-width="2.45"/>
<path d="M256.66 604.6V600.34M251.36 600.34H261.96" stroke="#000" stroke-width="1.9" fill="none"/>
<rect x="247.81" y="604.6" width="17.7" height="86" fill="#c8c8c8" stroke="#000" stroke-width="2.45"/>
<path d="M282.75 606.3V592.68M277.45 592.68H288.05" stroke="#000" stroke-width="1.9" fill="none"/>
<rect x="273.9" y="606.3" width="17.7" height="84.3" fill="#c8c8c8" stroke="#000" stroke-width="2.45"/>
<path d="M308.84 607.15V596.93M303.54 596.93H314.14" stroke="#000" stroke-width="1.9" fill="none"/>
<rect x="299.99" y="607.15" width="17.7" height="83.45" fill="#c8c8c8" stroke="#000" stroke-width="2.45"/>
<path d="M334.94 602.9V588.42M329.64 588.42H340.24" stroke="#000" stroke-width="1.9" fill="none"/>
<rect x="326.09" y="602.9" width="17.7" height="87.7" fill="#c8c8c8" stroke="#000" stroke-width="2.45"/>
<path d="M361.03 636.96V621.63M355.73 621.63H366.33" stroke="#000" stroke-width="1.9" fill="none"/>
<rect x="352.18" y="636.96" width="17.7" height="53.64" fill="#c8c8c8" stroke="#000" stroke-width="2.45"/>
<path d="M387.13 602.04V596.93M381.83 596.93H392.43" stroke="#000" stroke-width="1.9" fill="none"/>
<rect x="378.28" y="602.04" width="17.7" height="88.56" fill="#c8c8c8" stroke="#000" stroke-width="2.45"/>
<path d="M413.22 613.11V608.86M407.92 608.86H418.52" stroke="#000" stroke-width="1.9" fill="none"/>
<rect x="404.37" y="613.11" width="17.7" height="77.49" fill="#c8c8c8" stroke="#000" stroke-width="2.45"/>
<path d="M439.31 631.85V625.89M434.01 625.89H444.61" stroke="#000" stroke-width="1.9" fill="none"/>
<rect x="430.46" y="631.85" width="17.7" height="58.75" fill="#c8c8c8" stroke="#000" stroke-width="2.45"/>
<path d="M465.41 599.49V594.38M460.11 594.38H470.71" stroke="#000" stroke-width="1.9" fill="none"/>
<rect x="456.56" y="599.49" width="17.7" height="91.11" fill="#c8c8c8" stroke="#000" stroke-width="2.45"/>
<path d="M491.5 607.15V579.9M486.2 579.9H496.8" stroke="#000" stroke-width="1.9" fill="none"/>
<rect x="482.65" y="607.15" width="17.7" height="83.45" fill="#c8c8c8" stroke="#000" stroke-width="2.45"/>
<line x1="59" y1="605.62" x2="501.5" y2="605.62" stroke="#1c1c1c" stroke-width="2.4" stroke-dasharray="8.8 3.2"/>
<line x1="61.1" y1="519.05" x2="61.1" y2="691.85" stroke="#000" stroke-width="2.5"/>
<line x1="59.85" y1="690.6" x2="504.5" y2="690.6" stroke="#000" stroke-width="2.5"/>
<line x1="54.8" y1="690.6" x2="61.1" y2="690.6" stroke="#000" stroke-width="2.5"/>
<text x="54.1" y="696.58" font-size="18.4" text-anchor="end">0.0</text>
<line x1="54.8" y1="648.02" x2="61.1" y2="648.02" stroke="#000" stroke-width="2.5"/>
<text x="54.1" y="654" font-size="18.4" text-anchor="end">0.5</text>
<line x1="54.8" y1="605.45" x2="61.1" y2="605.45" stroke="#000" stroke-width="2.5"/>
<text x="54.1" y="611.43" font-size="18.4" text-anchor="end">1.0</text>
<line x1="54.8" y1="562.88" x2="61.1" y2="562.88" stroke="#000" stroke-width="2.5"/>
<text x="54.1" y="568.86" font-size="18.4" text-anchor="end">1.5</text>
<line x1="54.8" y1="520.3" x2="61.1" y2="520.3" stroke="#000" stroke-width="2.5"/>
<text x="54.1" y="526.28" font-size="18.4" text-anchor="end">2.0</text>
<text transform="translate(19.6,602.3) rotate(-90)" font-size="18.45" text-anchor="middle">Fold change</text>
<text transform="translate(1.1,527.8) scale(1,1)" font-size="24.8" font-weight="bold">C</text>
<line x1="74" y1="690.6" x2="74" y2="697.45" stroke="#000" stroke-width="2.5"/>
<text transform="translate(78,706.9) rotate(-45)" font-size="19.0" text-anchor="end">G6PD</text>
<line x1="100.09" y1="690.6" x2="100.09" y2="697.45" stroke="#000" stroke-width="2.5"/>
<text transform="translate(104.09,706.9) rotate(-45)" font-size="19.0" text-anchor="end">TPI</text>
<line x1="126.19" y1="690.6" x2="126.19" y2="697.45" stroke="#000" stroke-width="2.5"/>
<text transform="translate(130.19,706.9) rotate(-45)" font-size="19.0" text-anchor="end">GPI</text>
<line x1="152.28" y1="690.6" x2="152.28" y2="697.45" stroke="#000" stroke-width="2.5"/>
<text transform="translate(156.28,706.9) rotate(-45)" font-size="19.0" text-anchor="end">HK1</text>
<line x1="178.37" y1="690.6" x2="178.37" y2="697.45" stroke="#000" stroke-width="2.5"/>
<text transform="translate(182.37,706.9) rotate(-45)" font-size="19.0" text-anchor="end">PFKL</text>
<line x1="204.47" y1="690.6" x2="204.47" y2="697.45" stroke="#000" stroke-width="2.5"/>
<text transform="translate(208.47,706.9) rotate(-45)" font-size="19.0" text-anchor="end">ALDOA</text>
<line x1="230.56" y1="690.6" x2="230.56" y2="697.45" stroke="#000" stroke-width="2.5"/>
<text transform="translate(234.56,706.9) rotate(-45)" font-size="19.0" text-anchor="end">GAPDH</text>
<line x1="256.66" y1="690.6" x2="256.66" y2="697.45" stroke="#000" stroke-width="2.5"/>
<text transform="translate(260.66,706.9) rotate(-45)" font-size="19.0" text-anchor="end">PGK1</text>
<line x1="282.75" y1="690.6" x2="282.75" y2="697.45" stroke="#000" stroke-width="2.5"/>
<text transform="translate(286.75,706.9) rotate(-45)" font-size="19.0" text-anchor="end">BPGM</text>
<line x1="308.84" y1="690.6" x2="308.84" y2="697.45" stroke="#000" stroke-width="2.5"/>
<text transform="translate(312.84,706.9) rotate(-45)" font-size="19.0" text-anchor="end">ENO1</text>
<line x1="334.94" y1="690.6" x2="334.94" y2="697.45" stroke="#000" stroke-width="2.5"/>
<text transform="translate(338.94,706.9) rotate(-45)" font-size="19.0" text-anchor="end">PKLR</text>
<line x1="361.03" y1="690.6" x2="361.03" y2="697.45" stroke="#000" stroke-width="2.5"/>
<text transform="translate(365.03,706.9) rotate(-45)" font-size="19.0" text-anchor="end">PGLS</text>
<line x1="387.13" y1="690.6" x2="387.13" y2="697.45" stroke="#000" stroke-width="2.5"/>
<text transform="translate(391.13,706.9) rotate(-45)" font-size="19.0" text-anchor="end">PGD</text>
<line x1="413.22" y1="690.6" x2="413.22" y2="697.45" stroke="#000" stroke-width="2.5"/>
<text transform="translate(417.22,706.9) rotate(-45)" font-size="19.0" text-anchor="end">RPE</text>
<line x1="439.31" y1="690.6" x2="439.31" y2="697.45" stroke="#000" stroke-width="2.5"/>
<text transform="translate(443.31,706.9) rotate(-45)" font-size="19.0" text-anchor="end">RPIA</text>
<line x1="465.41" y1="690.6" x2="465.41" y2="697.45" stroke="#000" stroke-width="2.5"/>
<text transform="translate(469.41,706.9) rotate(-45)" font-size="19.0" text-anchor="end">TKT</text>
<line x1="491.5" y1="690.6" x2="491.5" y2="697.45" stroke="#000" stroke-width="2.5"/>
<text transform="translate(495.5,706.9) rotate(-45)" font-size="19.0" text-anchor="end">TALDO1</text>
<text transform="translate(74.3,536.97) scale(1,0.82)" font-size="17.5" text-anchor="middle">*</text>
<path d="M75.15 811.06V793.12M69.85 793.12H80.45" stroke="#000" stroke-width="1.9" fill="none"/>
<rect x="66.35" y="811.06" width="17.6" height="135.44" fill="#c8c8c8" stroke="#000" stroke-width="2.45"/>
<path d="M101.26 913.6V910.61M95.96 910.61H106.56" stroke="#000" stroke-width="1.9" fill="none"/>
<rect x="92.46" y="913.6" width="17.6" height="32.9" fill="#c8c8c8" stroke="#000" stroke-width="2.45"/>
<path d="M127.37 906.77V905.91M122.07 905.91H132.67" stroke="#000" stroke-width="1.9" fill="none"/>
<rect x="118.57" y="906.77" width="17.6" height="39.73" fill="#c8c8c8" stroke="#000" stroke-width="2.45"/>
<path d="M153.48 909.76V906.34M148.18 906.34H158.78" stroke="#000" stroke-width="1.9" fill="none"/>
<rect x="144.68" y="909.76" width="17.6" height="36.74" fill="#c8c8c8" stroke="#000" stroke-width="2.45"/>
<path d="M179.59 902.49V899.08M174.29 899.08H184.89" stroke="#000" stroke-width="1.9" fill="none"/>
<rect x="170.79" y="902.49" width="17.6" height="44.01" fill="#c8c8c8" stroke="#000" stroke-width="2.45"/>
<path d="M205.7 904.63V900.36M200.4 900.36H211" stroke="#000" stroke-width="1.9" fill="none"/>
<rect x="196.9" y="904.63" width="17.6" height="41.87" fill="#c8c8c8" stroke="#000" stroke-width="2.45"/>
<path d="M231.81 905.06V903.77M226.51 903.77H237.11" stroke="#000" stroke-width="1.9" fill="none"/>
<rect x="223.01" y="905.06" width="17.6" height="41.44" fill="#c8c8c8" stroke="#000" stroke-width="2.45"/>
<path d="M257.92 903.77V899.5M252.62 899.5H263.22" stroke="#000" stroke-width="1.9" fill="none"/>
<rect x="249.12" y="903.77" width="17.6" height="42.73" fill="#c8c8c8" stroke="#000" stroke-width="2.45"/>
<path d="M284.02 909.33V907.19M278.72 907.19H289.32" stroke="#000" stroke-width="1.9" fill="none"/>
<rect x="275.22" y="909.33" width="17.6" height="37.17" fill="#c8c8c8" stroke="#000" stroke-width="2.45"/>
<path d="M310.13 916.59V910.18M304.83 910.18H315.43" stroke="#000" stroke-width="1.9" fill="none"/>
<rect x="301.33" y="916.59" width="17.6" height="29.91" fill="#c8c8c8" stroke="#000" stroke-width="2.45"/>
<path d="M336.24 917.45V913.17M330.94 913.17H341.54" stroke="#000" stroke-width="1.9" fill="none"/>
<rect x="327.44" y="917.45" width="17.6" height="29.05" fill="#c8c8c8" stroke="#000" stroke-width="2.45"/>
<path d="M362.35 910.61V906.34M357.05 906.34H367.65" stroke="#000" stroke-width="1.9" fill="none"/>
<rect x="353.55" y="910.61" width="17.6" height="35.89" fill="#c8c8c8" stroke="#000" stroke-width="2.45"/>
<path d="M388.46 908.9V905.91M383.16 905.91H393.76" stroke="#000" stroke-width="1.9" fill="none"/>
<rect x="379.66" y="908.9" width="17.6" height="37.6" fill="#c8c8c8" stroke="#000" stroke-width="2.45"/>
<path d="M414.57 918.3V909.76M409.27 909.76H419.87" stroke="#000" stroke-width="1.9" fill="none"/>
<rect x="405.77" y="918.3" width="17.6" height="28.2" fill="#c8c8c8" stroke="#000" stroke-width="2.45"/>
<path d="M440.68 917.02V912.75M435.38 912.75H445.98" stroke="#000" stroke-width="1.9" fill="none"/>
<rect x="431.88" y="917.02" width="17.6" height="29.48" fill="#c8c8c8" stroke="#000" stroke-width="2.45"/>
<path d="M466.79 914.46V911.47M461.49 911.47H472.09" stroke="#000" stroke-width="1.9" fill="none"/>
<rect x="457.99" y="914.46" width="17.6" height="32.04" fill="#c8c8c8" stroke="#000" stroke-width="2.45"/>
<path d="M492.9 908.9V905.91M487.6 905.91H498.2" stroke="#000" stroke-width="1.9" fill="none"/>
<rect x="484.1" y="908.9" width="17.6" height="37.6" fill="#c8c8c8" stroke="#000" stroke-width="2.45"/>
<line x1="62.5" y1="905.31" x2="505" y2="905.31" stroke="#1c1c1c" stroke-width="2.4" stroke-dasharray="9.4 3.1"/>
<line x1="62.2" y1="774.35" x2="62.2" y2="947.75" stroke="#000" stroke-width="2.5"/>
<line x1="60.95" y1="946.5" x2="506.1" y2="946.5" stroke="#000" stroke-width="2.5"/>
<line x1="55.9" y1="946.5" x2="62.2" y2="946.5" stroke="#000" stroke-width="2.5"/>
<text x="55.2" y="952.48" font-size="18.4" text-anchor="end">0</text>
<line x1="55.9" y1="903.77" x2="62.2" y2="903.77" stroke="#000" stroke-width="2.5"/>
<text x="55.2" y="909.75" font-size="18.4" text-anchor="end">1</text>
<line x1="55.9" y1="861.05" x2="62.2" y2="861.05" stroke="#000" stroke-width="2.5"/>
<text x="55.2" y="867.03" font-size="18.4" text-anchor="end">2</text>
<line x1="55.9" y1="818.33" x2="62.2" y2="818.33" stroke="#000" stroke-width="2.5"/>
<text x="55.2" y="824.31" font-size="18.4" text-anchor="end">3</text>
<line x1="55.9" y1="775.6" x2="62.2" y2="775.6" stroke="#000" stroke-width="2.5"/>
<text x="55.2" y="781.58" font-size="18.4" text-anchor="end">4</text>
<text transform="translate(30.6,857.6) rotate(-90)" font-size="18.45" text-anchor="middle">Fold change</text>
<text transform="translate(0.8,782.8) scale(1,1)" font-size="24.8" font-weight="bold">D</text>
<line x1="75.15" y1="946.5" x2="75.15" y2="953.35" stroke="#000" stroke-width="2.5"/>
<text transform="translate(79.15,965.2) rotate(-45)" font-size="19.0" text-anchor="end">G6PD</text>
<line x1="101.26" y1="946.5" x2="101.26" y2="953.35" stroke="#000" stroke-width="2.5"/>
<text transform="translate(105.26,965.2) rotate(-45)" font-size="19.0" text-anchor="end">TPI</text>
<line x1="127.37" y1="946.5" x2="127.37" y2="953.35" stroke="#000" stroke-width="2.5"/>
<text transform="translate(131.37,965.2) rotate(-45)" font-size="19.0" text-anchor="end">GPI</text>
<line x1="153.48" y1="946.5" x2="153.48" y2="953.35" stroke="#000" stroke-width="2.5"/>
<text transform="translate(157.48,965.2) rotate(-45)" font-size="19.0" text-anchor="end">HK1</text>
<line x1="179.59" y1="946.5" x2="179.59" y2="953.35" stroke="#000" stroke-width="2.5"/>
<text transform="translate(183.59,965.2) rotate(-45)" font-size="19.0" text-anchor="end">PFKL</text>
<line x1="205.7" y1="946.5" x2="205.7" y2="953.35" stroke="#000" stroke-width="2.5"/>
<text transform="translate(209.7,965.2) rotate(-45)" font-size="19.0" text-anchor="end">ALDOA</text>
<line x1="231.81" y1="946.5" x2="231.81" y2="953.35" stroke="#000" stroke-width="2.5"/>
<text transform="translate(235.81,965.2) rotate(-45)" font-size="19.0" text-anchor="end">GAPDH</text>
<line x1="257.92" y1="946.5" x2="257.92" y2="953.35" stroke="#000" stroke-width="2.5"/>
<text transform="translate(261.92,965.2) rotate(-45)" font-size="19.0" text-anchor="end">PGK1</text>
<line x1="284.02" y1="946.5" x2="284.02" y2="953.35" stroke="#000" stroke-width="2.5"/>
<text transform="translate(288.02,965.2) rotate(-45)" font-size="19.0" text-anchor="end">BPGM</text>
<line x1="310.13" y1="946.5" x2="310.13" y2="953.35" stroke="#000" stroke-width="2.5"/>
<text transform="translate(314.13,965.2) rotate(-45)" font-size="19.0" text-anchor="end">ENO1</text>
<line x1="336.24" y1="946.5" x2="336.24" y2="953.35" stroke="#000" stroke-width="2.5"/>
<text transform="translate(340.24,965.2) rotate(-45)" font-size="19.0" text-anchor="end">PKLR</text>
<line x1="362.35" y1="946.5" x2="362.35" y2="953.35" stroke="#000" stroke-width="2.5"/>
<text transform="translate(366.35,965.2) rotate(-45)" font-size="19.0" text-anchor="end">PGLS</text>
<line x1="388.46" y1="946.5" x2="388.46" y2="953.35" stroke="#000" stroke-width="2.5"/>
<text transform="translate(392.46,965.2) rotate(-45)" font-size="19.0" text-anchor="end">PGD</text>
<line x1="414.57" y1="946.5" x2="414.57" y2="953.35" stroke="#000" stroke-width="2.5"/>
<text transform="translate(418.57,965.2) rotate(-45)" font-size="19.0" text-anchor="end">RPE</text>
<line x1="440.68" y1="946.5" x2="440.68" y2="953.35" stroke="#000" stroke-width="2.5"/>
<text transform="translate(444.68,965.2) rotate(-45)" font-size="19.0" text-anchor="end">RPIA</text>
<line x1="466.79" y1="946.5" x2="466.79" y2="953.35" stroke="#000" stroke-width="2.5"/>
<text transform="translate(470.79,965.2) rotate(-45)" font-size="19.0" text-anchor="end">TKT</text>
<line x1="492.9" y1="946.5" x2="492.9" y2="953.35" stroke="#000" stroke-width="2.5"/>
<text transform="translate(496.9,965.2) rotate(-45)" font-size="19.0" text-anchor="end">TALDO1</text>
<text transform="translate(77.6,787.07) scale(1,0.82)" font-size="17.5" text-anchor="middle">**</text>
</svg>
</body>
</html>
